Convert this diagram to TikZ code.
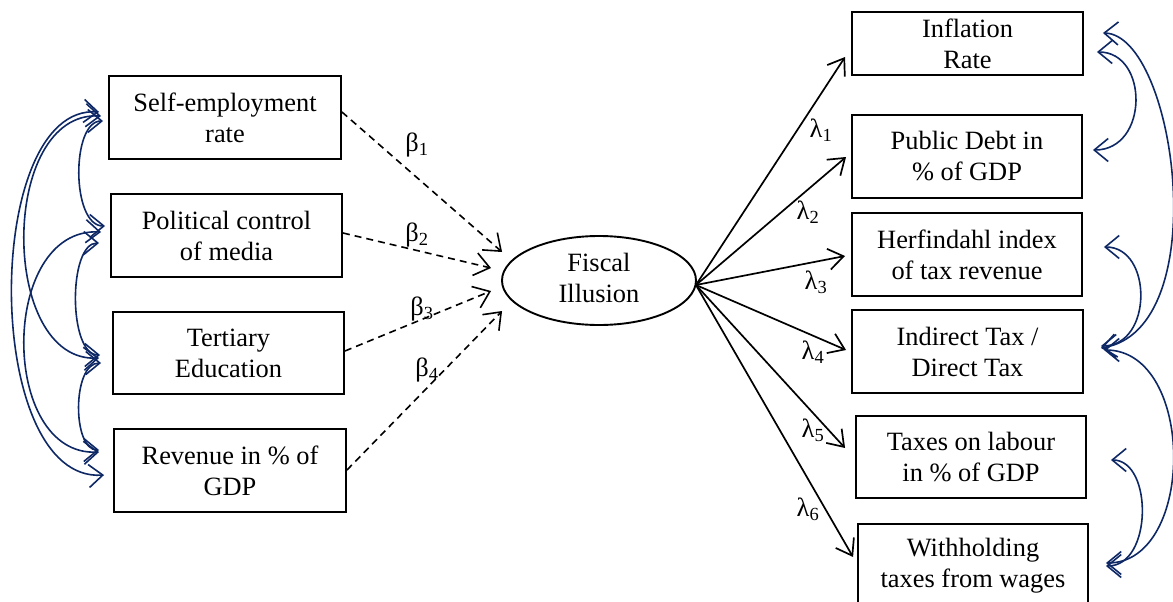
\documentclass[tikz,border=0pt]{standalone}
\usepackage{fontspec}
\setmainfont{Liberation Serif}
\usetikzlibrary{arrows.meta,shapes.geometric}
\definecolor{navy}{RGB}{14,40,102}
\begin{document}
\begin{tikzpicture}[x=1pt,y=-1pt,
  txt/.style={font=\fontsize{26.4}{31}\selectfont},
  box/.style={txt,draw=black,line width=1.9pt,inner sep=0pt,align=center},
  lbl/.style={txt,inner sep=0pt},
  dasharrow/.style={black,line width=1.6pt,dash pattern=on 7pt off 5pt,
    -{Straight Barb[length=15pt,width=23pt,line width=1.6pt]}},
  loadarrow/.style={black,line width=1.7pt,
    -{Straight Barb[length=15pt,width=21pt,line width=1.7pt]}},
  corr/.style={navy,line width=1.6pt,
    {Straight Barb[length=14pt,width=23pt,line width=1.6pt]}-{Straight Barb[length=14pt,width=23pt,line width=1.6pt]}}
]
\useasboundingbox (0,0) rectangle (1173,602);

% left boxes
\node[box,minimum width=232pt,minimum height=83pt] (b1) at (225,117.5) {Self-employment\\rate};
\node[box,minimum width=231pt,minimum height=83pt] (b2) at (226.5,235.5) {Political control\\of media};
\node[box,minimum width=231pt,minimum height=82pt] (b3) at (228.5,353) {Tertiary\\Education};
\node[box,minimum width=232pt,minimum height=83pt] (b4) at (230,470.5) {Revenue in \% of\\GDP};

% latent variable
\node[draw=black,line width=1.9pt,ellipse,inner sep=0pt,
      minimum width=194pt,minimum height=89pt] (fi) at (599,280.5) {};
\node[txt,align=center,inner sep=0pt] (fitext) at (599,277.5) {Fiscal\\Illusion};

% right boxes
\node[box,minimum width=231pt,minimum height=63pt] (r1) at (967.5,43.5) {Inflation\\Rate};
\node[box,minimum width=230pt,minimum height=83pt] (r2) at (967,156.5) {Public Debt in\\\% of GDP};
\node[box,minimum width=230pt,minimum height=83pt] (r3) at (967,254.5) {Herfindahl index\\of tax revenue};
\node[box,minimum width=231pt,minimum height=83pt] (r4) at (967.5,351.5) {Indirect Tax /\\Direct Tax};
\node[box,minimum width=230pt,minimum height=82pt] (r5) at (971,457) {Taxes on labour\\in \% of GDP};
\node[box,minimum width=230pt,minimum height=83pt] (r6) at (973,565.5) {Withholding\\taxes from wages};

% beta paths
\draw[dasharrow] ([shift={(0,-5.5)}]b1.east) -- ([shift={(1,-28.5)}]fi.west);
\draw[dasharrow] ([shift={(0,-2.5)}]b2.east) -- ([shift={(-10,-12.5)}]fi.west);
\draw[dasharrow] ([shift={(0,-2)}]b3.east) -- ([shift={(-10,10.5)}]fi.west);
\draw[dasharrow] ([shift={(0,-0.5)}]b4.east) -- ([shift={(1,30.5)}]fi.west);

\node[lbl] (beta1) at (417,145) {β\textsubscript{1}};
\node[lbl] (beta2) at (417,235) {β\textsubscript{2}};
\node[lbl] (beta3) at (422,309) {β\textsubscript{3}};
\node[lbl] (beta4) at (427,370) {β\textsubscript{4}};

% lambda paths
\coordinate (o) at ([shift={(-1,4.5)}]fi.east);
\draw[loadarrow] (o) -- ([shift={(-6,13.5)}]r1.west);
\draw[loadarrow] (o) -- ([shift={(-5,0.5)}]r2.west);
\draw[loadarrow] (o) -- ([shift={(-6,1.5)}]r3.west);
\draw[loadarrow] (o) -- ([shift={(-5,-1.5)}]r4.west);
\draw[loadarrow] (o) -- ([shift={(-10,-9)}]r5.west);
\draw[loadarrow] (o) -- ([shift={(-4,-8.5)}]r6.west);

\node[lbl] (lam1) at (821,130) {λ\textsubscript{1}};
\node[lbl] (lam2) at (808,212) {λ\textsubscript{2}};
\node[lbl] (lam3) at (816,282) {λ\textsubscript{3}};
\node[lbl] (lam4) at (813,352) {λ\textsubscript{4}};
\node[lbl] (lam5) at (813,430) {λ\textsubscript{5}};
\node[lbl] (lam6) at (808,509) {λ\textsubscript{6}};

% left correlations
\draw[corr] ([shift={(-9,-5.5)}]b1.west) .. controls +(-117,-8) and +(-122,8) .. ([shift={(-9,4.5)}]b4.west);
\draw[corr] ([shift={(-7,-1.5)}]b1.west) .. controls +(-102,-5) and +(-100,5) .. ([shift={(-13,5)}]b3.west);
\draw[corr] ([shift={(-9,-3.5)}]b2.west) .. controls +(-102,-5) and +(-100,5) .. ([shift={(-14,-18.5)}]b4.west);
\draw[corr] ([shift={(-5,3.5)}]b1.west) .. controls +(-32,0) and +(-34,0) .. ([shift={(-5,-9.5)}]b2.west);
\draw[corr] ([shift={(-11,7.5)}]b2.west) .. controls +(-31,0) and +(-32,0) .. ([shift={(-12,2)}]b3.west);
\draw[corr] ([shift={(-11,10)}]b3.west) .. controls +(-29,0) and +(-27,0) .. ([shift={(-14,-20.5)}]b4.west);

% right correlations
\draw[corr] ([shift={(19,-10.5)}]r1.east) .. controls +(73,2) and +(115,-18) .. ([shift={(17,-3.5)}]r4.east);
\draw[corr] ([shift={(13,8.5)}]r1.east) .. controls +(52,0) and +(56,0) .. ([shift={(10,-6.5)}]r2.east);
\draw[corr] ([shift={(21,-7.5)}]r3.east) .. controls +(49,0) and +(52,0) .. ([shift={(17,-5.5)}]r4.east);
\draw[corr] ([shift={(20,-1.5)}]r4.east) .. controls +(92,0) and +(90,0) .. ([shift={(17,-2.5)}]r6.east);
\draw[corr] ([shift={(24,3)}]r5.east) .. controls +(42,0) and +(47,0) .. ([shift={(17,0.5)}]r6.east);
\end{tikzpicture}
\end{document}
